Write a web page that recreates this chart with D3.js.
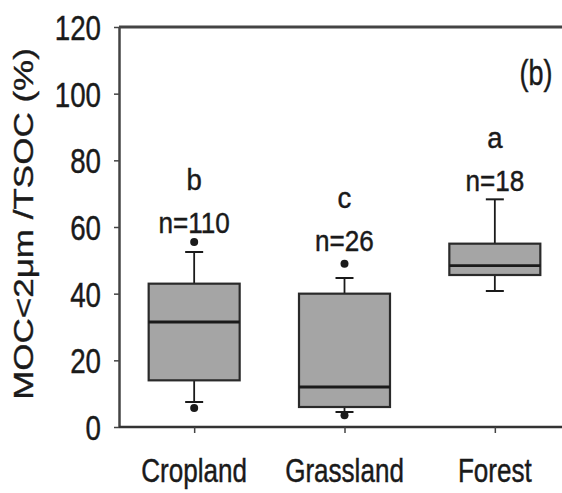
<!DOCTYPE html>
<html>
<head>
<meta charset="utf-8">
<script src="https://cdn.jsdelivr.net/npm/d3@7"></script>
<style>
  html, body { margin: 0; padding: 0; background: #fff; }
  svg { display: block; font-family: "Liberation Sans", Arial, sans-serif; }
  svg text { stroke: #1a1a1a; stroke-width: 0.45px; }
</style>
</head>
<body>
<div id="chart"></div>
<script>
// box plot values (MOC<2um / TSOC, %)
const categories = ["Cropland", "Grassland", "Forest"];
const q1 = [14, 6, 45.6];
const median = [31.5, 12, 48.4];
const q3 = [43, 40, 55];
const whiskerLow = [7.5, 4.5, 40.8];
const whiskerHigh = [52.5, 44.7, 68.3];
const outliers = [[55.5, 5.7], [49, 3.5], []];
const groupLetters = ["b", "c", "a"];
const sampleSizes = [110, 26, 18];
// value where the "n=" label sits above each box
const labelAt = [58.2, 52.8, 70.8];
const yTicks = [0, 20, 40, 60, 80, 100, 120];

const width = 562, height = 493;
const margin = { top: 27, right: -8, bottom: 66, left: 119 };

const svg = d3.select('#chart')
    .append('svg')
    .attr('width', width)
    .attr('height', height);

const x = d3.scalePoint()
    .domain(categories)
    .range([margin.left, width - margin.right])
    .padding(0.5);

const y = d3.scaleLinear()
    .domain([0, 120])
    .range([height - margin.bottom, margin.top]);

const boxWidth = 91;
const capWidth = 18;
const ink = '#1a1a1a';

// text squeezed horizontally like the original figure
function label(x0, y0, str, size, sx, anchor) {
    return svg.append('text')
        .attr('transform', `translate(${x0},${y0}) scale(${sx},1)`)
        .attr('text-anchor', anchor || 'middle')
        .style('font-size', size + 'px')
        .style('fill', ink)
        .text(str);
}

// top frame line
svg.append('line')
    .attr('x1', margin.left).attr('x2', width + 10)
    .attr('y1', y(120)).attr('y2', y(120))
    .style('stroke', '#444')
    .style('stroke-width', 3);

// left axis
const yAxis = svg.append('g')
    .attr('transform', `translate(${margin.left},0)`)
    .call(d3.axisLeft(y).tickValues(yTicks).tickSize(5).tickSizeOuter(0).tickFormat(''));
yAxis.select('.domain').style('stroke', '#444').style('stroke-width', 2.5);
yAxis.selectAll('.tick line').style('stroke', '#444').style('stroke-width', 1.5);

yTicks.forEach(t => label(101, y(t) + 13, t, 36, 0.77, 'end'));

// bottom axis
const xAxis = svg.append('g')
    .attr('transform', `translate(0,${y(0)})`)
    .call(d3.axisBottom(x).tickSize(6).tickSizeOuter(0).tickFormat(''));
xAxis.select('.domain').attr('d', `M${margin.left},0H${width + 10}`)
    .style('stroke', '#333').style('stroke-width', 2.5);
xAxis.selectAll('.tick line').style('stroke', '#444').style('stroke-width', 1.5);

categories.forEach(c => label(x(c), 482, c, 33, 0.79));

// y axis title
svg.append('text')
    .attr('transform', `translate(33,224) scale(0.8,1) rotate(-90)`)
    .attr('text-anchor', 'middle')
    .style('font-size', '35px')
    .style('fill', ink)
    .text('MOC<2μm /TSOC (%)');

// panel tag
label(536, 85, '(b)', 35, 0.77);

// boxes
categories.forEach((c, i) => {
    const cx = x(c);
    const g = svg.append('g');

    // whiskers
    g.append('line')
        .attr('x1', cx).attr('x2', cx)
        .attr('y1', y(whiskerHigh[i])).attr('y2', y(q3[i]))
        .style('stroke', ink).style('stroke-width', 1.8);
    g.append('line')
        .attr('x1', cx).attr('x2', cx)
        .attr('y1', y(q1[i])).attr('y2', y(whiskerLow[i]))
        .style('stroke', ink).style('stroke-width', 1.8);
    [whiskerHigh[i], whiskerLow[i]].forEach(v => {
        g.append('line')
            .attr('x1', cx - capWidth / 2).attr('x2', cx + capWidth / 2)
            .attr('y1', y(v)).attr('y2', y(v))
            .style('stroke', ink).style('stroke-width', 2);
    });

    // box
    g.append('rect')
        .attr('x', cx - boxWidth / 2)
        .attr('y', y(q3[i]))
        .attr('width', boxWidth)
        .attr('height', y(q1[i]) - y(q3[i]))
        .style('fill', '#a5a5a5')
        .style('stroke', '#2a2a2a')
        .style('stroke-width', 2.2);

    // median
    g.append('line')
        .attr('x1', cx - boxWidth / 2).attr('x2', cx + boxWidth / 2)
        .attr('y1', y(median[i])).attr('y2', y(median[i]))
        .style('stroke', ink).style('stroke-width', 2.8);

    // outliers
    g.selectAll('circle')
        .data(outliers[i])
        .enter()
        .append('circle')
        .attr('cx', cx)
        .attr('cy', d => y(d))
        .attr('r', 4)
        .style('fill', ink);

    // letters and sample sizes
    const nBase = y(labelAt[i]);
    label(cx, nBase - 43, groupLetters[i], 29, 0.95);
    label(cx, nBase, 'n=' + sampleSizes[i], 29, 0.9);
});
</script>
</body>
</html>
